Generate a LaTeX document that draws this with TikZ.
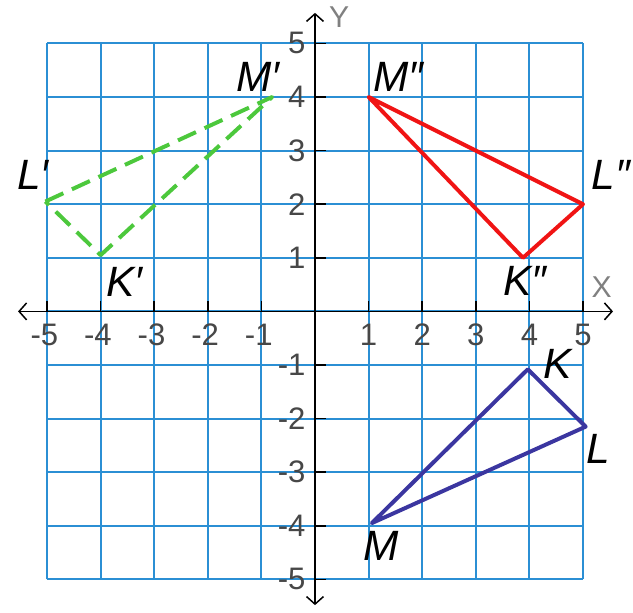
\documentclass[tikz,border=0pt]{standalone}
\usepackage{fontspec}
\setmainfont{Liberation Sans}
\usetikzlibrary{arrows.meta}
\definecolor{gridblue}{HTML}{2B8FD4}
\definecolor{redtri}{HTML}{F01414}
\definecolor{bluetri}{HTML}{3B36A0}
\definecolor{greentri}{HTML}{4CC83C}
\definecolor{numgray}{HTML}{474747}
\begin{document}
\begin{tikzpicture}[x=1cm,y=1cm,
  gridline/.style={gridblue, line width=1pt},
  axisline/.style={black, line width=0.8pt, {Straight Barb[length=4pt,width=9pt]}-{Straight Barb[length=4pt,width=9pt]}},
  tickmark/.style={black, line width=0.8pt},
  numlabel/.style={font=\fontsize{16.5}{16.5}\selectfont, text=numgray, inner sep=0pt},
  axlabel/.style={font=\fontsize{16}{16}\selectfont, text=gray, inner sep=0pt},
  vlabel/.style={font=\fontsize{22.5}{22.5}\selectfont\itshape, text=black, inner sep=0pt},
  imgred/.style={redtri, line width=2.1pt, line join=round},
  imgblue/.style={bluetri, line width=2.1pt, line join=round},
  imggreen/.style={greentri, line width=2.1pt, line join=round, dash pattern=on 10.5pt off 5pt}
]
\useasboundingbox (-5.877,-5.625) rectangle (5.933,5.81);
% grid
\draw[gridline] (-5,-5) grid (5,5);
% axes
\coordinate (xl) at (-5.54,0);
\coordinate (xr) at (5.56,0);
\coordinate (yb) at (0,-5.48);
\coordinate (yt) at (0,5.57);
\draw[axisline] (xl) -- (xr);
\draw[axisline] (yb) -- (yt);
% ticks
\foreach \i in {-5,-4,-3,-2,-1,1,2,3,4,5} {
  \draw[tickmark] (\i,0) -- (\i,0.2);
  \draw[tickmark] (0,\i) -- (0.2,\i);
}
% tick labels
\foreach \j in {1,...,5} {
  \node[numlabel] (xp\j) at (\j,-0.44) {\j};
  \node[numlabel] (xm\j) at ({-\j-0.05},-0.44) {-\j};
  \node[numlabel, anchor=east] (yp\j) at (-0.17,\j) {\j};
  \node[numlabel, anchor=east] (ym\j) at (-0.17,-\j) {-\j};
}
\node[axlabel] (ylab) at (0.45,5.49) {Y};
\node[axlabel] (xlab) at (5.35,0.46) {X};
% vertices
\coordinate (K) at (3.97,-1.08);
\coordinate (L) at (5.05,-2.15);
\coordinate (M) at (1.06,-3.95);
\coordinate (K2) at (3.88,1);
\coordinate (L2) at (5,2);
\coordinate (M2) at (1,4);
\coordinate (K1) at (-4,1.05);
\coordinate (L1) at (-5.03,2.05);
\coordinate (M1) at (-0.8,4);
% triangles
\draw[imggreen] (L1) -- (M1) -- (K1) -- cycle;
\draw[imgred] (M2) -- (L2) -- (K2) -- cycle;
\draw[imgblue] (K) -- (L) -- (M) -- cycle;
% vertex labels
\node[vlabel] (lM1) at (-1.07,4.37) {M′};
\node[vlabel] (lL1) at (-5.26,2.55) {L′};
\node[vlabel] (lK1) at (-3.56,0.55) {K′};
\node[vlabel] (lM2) at (1.56,4.37) {M″};
\node[vlabel] (lL2) at (5.52,2.55) {L″};
\node[vlabel] (lK2) at (3.92,0.57) {K″};
\node[vlabel] (lK) at (4.53,-0.98) {K};
\node[vlabel] (lL) at (5.28,-2.56) {L};
\node[vlabel] (lM) at (1.23,-4.38) {M};
\end{tikzpicture}
\end{document}
